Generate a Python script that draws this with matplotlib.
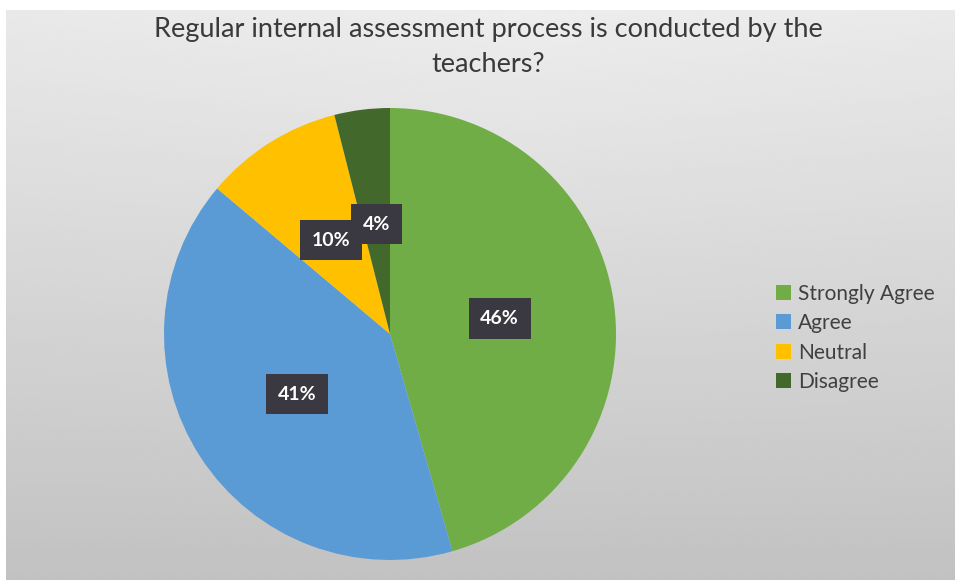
import numpy as np
import matplotlib.pyplot as plt

categories = ["Strongly Agree", "Agree", "Neutral", "Disagree"]
values = [46, 41, 10, 4]
colors = ["#70ad47", "#5b9bd5", "#ffc000", "#43682b"]
title = "Regular internal assessment process is conducted by the\nteachers?"

W, H = 955, 581
fig = plt.figure(figsize=(W / 100, H / 100), dpi=100)
fig.patch.set_facecolor("white")

# grey gradient background (white strip on top and left edge)
bg = fig.add_axes([6 / W, 1 / H, 1 - 6 / W, (H - 11) / H])
yy, xx = np.mgrid[0:1:300j, 0:1:500j]
shade = 0.93 - 0.17 * yy - 0.03 * np.abs(xx - 0.55) * (1 - yy)
bg.imshow(shade, cmap="gray", vmin=0, vmax=1, aspect="auto",
          extent=[0, 1, 1, 0], interpolation="bicubic")
bg.set_axis_off()

# pie
cx, cy, r = 390, 334, 226
ax = fig.add_axes([(cx - r) / W, (H - cy - r) / H, 2 * r / W, 2 * r / H])
wedges, texts = ax.pie(values, colors=colors, startangle=90, counterclock=False,
                       radius=1, wedgeprops=dict(linewidth=0))
for w, v in zip(wedges, values):
    ang = np.deg2rad((w.theta1 + w.theta2) / 2)
    ax.text(0.49 * np.cos(ang), 0.49 * np.sin(ang), f"{v}%",
            ha="center", va="center", color="white", fontsize=14,
            fontweight="bold", family="Lato",
            bbox=dict(boxstyle="square,pad=0.6", fc="#3a3840", ec="none"))
ax.set_xlim(-1, 1)
ax.set_ylim(-1, 1)
ax.set_aspect("equal")
ax.set_axis_off()

fig.text(488 / W, 1 - 47 / H, title, ha="center", va="center",
         fontsize=19.5, color="#3a3a3a", family="Lato", linespacing=1.45)

leg = fig.legend(wedges, categories, loc="upper left",
                 bbox_to_anchor=(757 / W, 1 - 265 / H), frameon=False,
                 handlelength=0.75, handleheight=0.75, handletextpad=0.3,
                 labelspacing=0.45, prop=dict(family="Lato", size=15))
for t in leg.get_texts():
    t.set_color("#404040")

fig.savefig("out.png", dpi=100)
